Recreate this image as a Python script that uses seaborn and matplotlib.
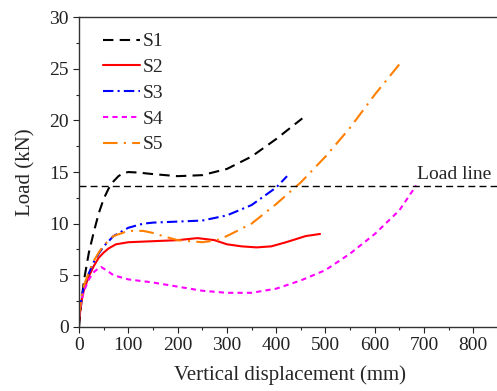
"""Load-displacement curves S1-S5 with load line"""

import numpy as np, matplotlib.pyplot as plt
import seaborn as sns, pandas as pd
from matplotlib.ticker import MultipleLocator

sns.set_theme(style="ticks")
plt.rcParams['font.family'] = ['Liberation Serif', 'DejaVu Serif']

# Data
s1_x = [0, 5, 10, 20, 30, 40, 50, 60, 70, 80, 90, 100, 120, 150, 200, 250, 300, 350, 400, 453]
s1_y = [0, 2.5, 4.5, 7.2, 9.2, 11.0, 12.4, 13.4, 14.1, 14.6, 14.9, 15.0, 14.95, 14.8, 14.6, 14.7, 15.3, 16.5, 18.2, 20.2]

s2_x = [0, 5, 10, 20, 30, 40, 50, 60, 75, 100, 150, 200, 240, 275, 300, 330, 360, 390, 420, 460, 489]
s2_y = [0.5, 2.5, 3.6, 4.9, 5.9, 6.7, 7.2, 7.6, 8.0, 8.2, 8.3, 8.4, 8.6, 8.4, 8.0, 7.8, 7.7, 7.8, 8.2, 8.8, 9.0]

s3_x = [0, 5, 10, 20, 30, 40, 50, 70, 100, 130, 150, 200, 250, 300, 350, 400, 422]
s3_y = [1.0, 2.8, 3.9, 5.2, 6.3, 7.1, 7.8, 8.8, 9.6, 10.0, 10.1, 10.2, 10.3, 10.8, 11.8, 13.5, 14.6]

s4_x = [0, 5, 10, 20, 30, 40, 45, 55, 70, 100, 150, 200, 250, 300, 350, 400, 450, 500, 550, 600, 650, 684]
s4_y = [1.0, 2.6, 3.5, 4.6, 5.3, 5.7, 5.8, 5.5, 5.0, 4.6, 4.3, 3.9, 3.5, 3.3, 3.3, 3.7, 4.5, 5.5, 7.1, 9.0, 11.3, 13.7]

s5_x = [0, 5, 10, 20, 30, 40, 50, 70, 100, 130, 150, 170, 200, 250, 280, 300, 350, 400, 450, 500, 550, 600, 656]
s5_y = [1.0, 2.9, 4.0, 5.3, 6.4, 7.2, 7.9, 8.8, 9.3, 9.3, 9.1, 8.8, 8.4, 8.2, 8.4, 8.8, 10.0, 11.9, 14.0, 16.5, 19.3, 22.5, 25.8]

load_line = 13.6

series = {
    'S1': (s1_x, s1_y, 'black', (0, (5, 3))),
    'S2': (s2_x, s2_y, 'red', '-'),
    'S3': (s3_x, s3_y, 'blue', (0, (5, 2, 1, 2))),
    'S4': (s4_x, s4_y, 'magenta', (0, (2.5, 2))),
    'S5': (s5_x, s5_y, '#ff7f00', (0, (7, 3, 1, 3))),
}

fig = plt.figure(figsize=(4.97, 3.91), dpi=100)
ax = fig.add_axes([0.159, 0.164, 0.848, 0.792])

for name, (x, y, c, ls) in series.items():
    df = pd.DataFrame({'x': x, 'y': y})
    sns.lineplot(data=df, x='x', y='y', sort=False, color=c, linestyle=ls,
                 linewidth=1.5, label=name, ax=ax)

ax.axhline(load_line, color='black', linestyle=(0, (5, 3)), linewidth=1.0)
ax.text(760, load_line + 0.3, 'Load line', fontsize=14, ha='center', va='bottom')

ax.set_xlim(0, 855)
ax.set_ylim(0, 30)
ax.xaxis.set_major_locator(MultipleLocator(100))
ax.xaxis.set_minor_locator(MultipleLocator(50))
ax.yaxis.set_major_locator(MultipleLocator(5))
ax.yaxis.set_minor_locator(MultipleLocator(2.5))
ax.tick_params(which='major', direction='out', length=4, width=0.8, labelsize=14, colors='#222222')
ax.tick_params(which='minor', direction='out', length=2.5, width=0.8)
for sp in ax.spines.values():
    sp.set_color('#333333')
    sp.set_linewidth(1.0)

ax.set_xlabel('Vertical displacement (mm)', fontsize=15, labelpad=8)
ax.set_ylabel('Load (kN)', fontsize=15, labelpad=10)

ax.legend(loc='upper left', frameon=False, fontsize=14, handlelength=1.9,
          handletextpad=0.15, labelspacing=0.42, borderaxespad=0.4,
          bbox_to_anchor=(0.02, 1.0))

plt.savefig('out.png', dpi=100)
plt.close()
